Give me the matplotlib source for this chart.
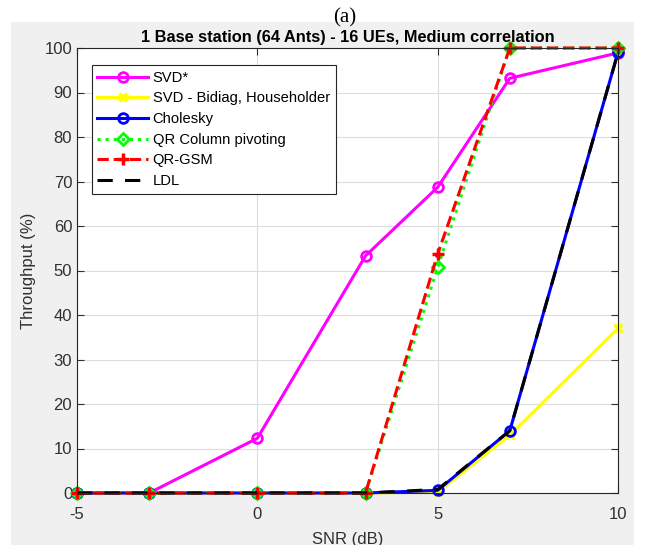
import matplotlib.pyplot as plt
from matplotlib.patches import Rectangle

plt.rcParams['font.family'] = ['Liberation Sans', 'DejaVu Sans']
plt.rcParams['axes.unicode_minus'] = False

# data
snr = [-5, -3, 0, 3, 5, 7, 10]
svd_star = [0, 0, 12.3, 53.3, 68.7, 93.2, 98.9]
svd_bidiag = [0, 0, 0, 0, 0.2, 13.0, 37.0]
cholesky = [0, 0, 0, 0, 0.6, 14.0, 99.0]
qr_cp = [0, 0, 0, 0, 50.7, 100, 100]
qr_gsm = [0, 0, 0, 0, 53.7, 100, 100]
ldl = [0, 0, 0, 0, 0.8, 14.0, 99.0]

fig = plt.figure(figsize=(6.45, 5.45), dpi=100)
fig.patch.set_facecolor('white')
fig.patches.append(Rectangle((11 / 645, 0), (634 - 11) / 645, (545 - 22) / 545,
                             transform=fig.transFigure, facecolor='#f0f0f0',
                             edgecolor='none', zorder=-10))
fig.text(0.535, 0.985, '(a)', ha='center', va='top', fontsize=15,
         family=['Liberation Serif', 'DejaVu Serif'])

ax = fig.add_axes([77 / 645, 1 - 493 / 545, (618 - 77) / 645, (493 - 48) / 545])
ax.set_facecolor('white')

common = dict(lw=2.2, clip_on=False)
ax.plot(snr, svd_star, color='#ff00ff', marker='o', ms=7, mfc='none', mew=2,
        label='SVD*', **common)
ax.plot(snr, svd_bidiag, color='#ffff00', marker='x', ms=6, mew=2.5,
        label='SVD - Bidiag, Householder', **common)
ax.plot(snr, cholesky, color='#0000ff', marker='o', ms=7, mfc='none', mew=2,
        label='Cholesky', **common)
ax.plot(snr, qr_cp, color='#00ff00', ls=':', marker='D', ms=6.5, mfc='none', mew=2,
        label='QR Column pivoting', **common)
ax.plot(snr, qr_gsm, color='#ff0000', ls='--', marker='+', ms=8, mew=2.5,
        label='QR-GSM', **common)
ax.plot(snr, ldl, color='black', ls=(0, (5, 4)), label='LDL', **common)

ax.set_xlim(-5, 10)
ax.set_ylim(0, 100)
ax.set_xticks([-5, 0, 5, 10])
ax.set_yticks(range(0, 101, 10))
ax.grid(True, color='#dcdcdc', lw=0.8)
ax.set_axisbelow(True)
ax.tick_params(direction='in', top=True, right=True, labelsize=12,
               colors='#303030', length=5, width=0.8)
ax.tick_params(axis='x', pad=10)
for s in ax.spines.values():
    s.set_color('#262626')
    s.set_linewidth(0.8)

ax.set_title('1 Base station (64 Ants) - 16 UEs, Medium correlation',
             fontsize=11.8, fontweight='bold', pad=4)
ax.set_xlabel('SNR (dB)', fontsize=12, color='#303030', labelpad=7)
ax.set_ylabel('Throughput (%)', fontsize=12, color='#303030', labelpad=6)

leg = ax.legend(loc='upper left', bbox_to_anchor=(0.027, 0.962), fontsize=10.6,
                handlelength=3.4, handletextpad=0.35, fancybox=False, framealpha=1,
                edgecolor='#262626', borderaxespad=0, labelspacing=0.45)
leg.get_frame().set_linewidth(0.8)

fig.savefig('out.png', dpi=100, facecolor=fig.get_facecolor())
